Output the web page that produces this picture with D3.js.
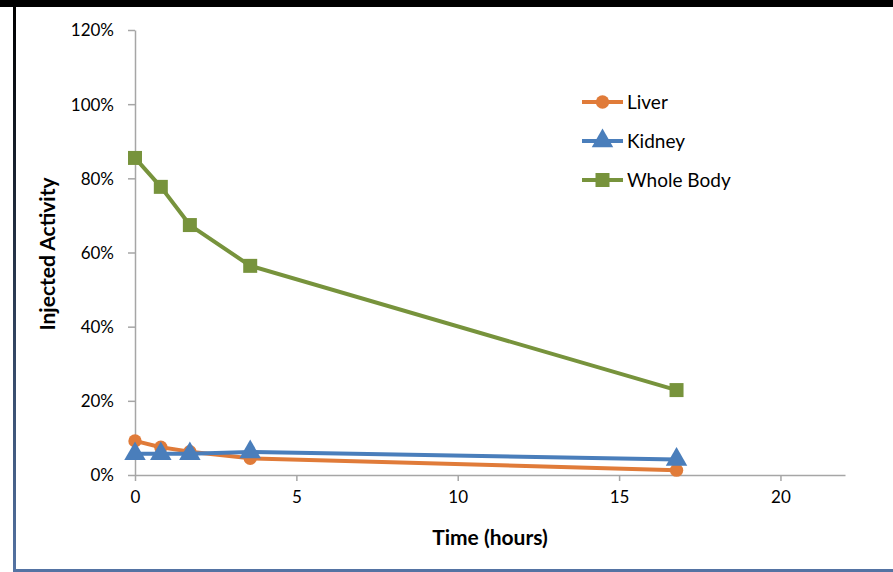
<!DOCTYPE html>
<html>
<head>
<meta charset="utf-8">
<script src="https://cdn.jsdelivr.net/npm/d3@7"></script>
<style>
	body { margin: 0; background: #fff; }
	svg { display: block; font-family: Lato, "Open Sans", sans-serif; }
</style>
</head>
<body>
<svg width="893" height="572"></svg>
<script>
// data
const times = [0, 0.8, 1.7, 3.57, 16.78];
const liver = [0.092, 0.075, 0.063, 0.045, 0.013];
const kidney = [0.057, 0.057, 0.057, 0.062, 0.042];
const wholeBody = [0.855, 0.777, 0.674, 0.564, 0.229];
const seriesNames = ["Liver", "Kidney", "Whole Body"];
const xTicks = [0, 5, 10, 15, 20];
const yTicks = [0, 0.2, 0.4, 0.6, 0.8, 1.0, 1.2];

const series = [
	{ name: seriesNames[0], values: liver, color: "#E07B39", shape: d3.symbolCircle },
	{ name: seriesNames[1], values: kidney, color: "#4A7EBB", shape: d3.symbolTriangle },
	{ name: seriesNames[2], values: wholeBody, color: "#77933C", shape: d3.symbolSquare },
];

const svg = d3.select("svg");

// frame: black band on top, dark-to-blue bar left, blue bar bottom
const defs = svg.append("defs");
const grad = defs
	.append("linearGradient")
	.attr("id", "leftGrad")
	.attr("x1", 0).attr("y1", 0)
	.attr("x2", 0).attr("y2", 1);
grad.append("stop").attr("offset", "0%").attr("stop-color", "#000");
grad.append("stop").attr("offset", "100%").attr("stop-color", "#5473A3");

svg.append("rect").attr("x", 0).attr("y", 0).attr("width", 893).attr("height", 7).attr("fill", "#000");
svg.append("rect").attr("x", 13).attr("y", 7).attr("width", 3).attr("height", 565).attr("fill", "url(#leftGrad)");
svg.append("rect").attr("x", 13).attr("y", 569).attr("width", 880).attr("height", 3).attr("fill", "#5473A3");

const xScale = d3.scaleLinear().domain([0, 22]).range([135, 845]);
const yScale = d3.scaleLinear().domain([0, 1.2]).range([475, 30]);

// axes
const xAxis = svg
	.append("g")
	.attr("transform", "translate(0," + yScale(0) + ")")
	.call(d3.axisBottom(xScale).tickValues(xTicks).tickSize(6).tickSizeOuter(0).tickPadding(10));
const yAxis = svg
	.append("g")
	.attr("transform", "translate(" + xScale(0) + ",0)")
	.call(d3.axisLeft(yScale).tickValues(yTicks).tickFormat(d3.format(".0%")).tickSize(7).tickSizeOuter(0).tickPadding(14));

[xAxis, yAxis].forEach((ax) => {
	ax.select(".domain").attr("stroke", "#A6A6A6").attr("stroke-width", 1.5);
	ax.selectAll(".tick line").attr("stroke", "#A6A6A6").attr("stroke-width", 1.5);
	ax.selectAll(".tick text").attr("fill", "#000").attr("font-size", "17px").attr("font-family", "Lato, sans-serif");
});
yAxis.selectAll(".tick text").attr("dy", "0.35em");

// axis titles
svg.append("text")
	.attr("x", 490)
	.attr("y", 545)
	.attr("text-anchor", "middle")
	.attr("font-size", "21px")
	.attr("font-weight", "bold")
	.text("Time (hours)");
svg.append("text")
	.attr("transform", "translate(55,254) rotate(-90)")
	.attr("text-anchor", "middle")
	.attr("font-size", "21px")
	.attr("font-weight", "bold")
	.text("Injected Activity");

const line = d3
	.line()
	.x((d, i) => xScale(times[i]))
	.y((d) => yScale(d));

const symbolSize = { Liver: 140, Kidney: 200, "Whole Body": 196 };

series.forEach((s) => {
	svg.append("path")
		.attr("d", line(s.values))
		.attr("fill", "none")
		.attr("stroke", s.color)
		.attr("stroke-width", 4)
		.attr("stroke-linejoin", "round");
	svg.append("g")
		.selectAll("path")
		.data(s.values)
		.join("path")
		.attr("transform", (d, i) => "translate(" + xScale(times[i]) + "," + yScale(d) + ")")
		.attr("d", d3.symbol().type(s.shape).size(symbolSize[s.name]))
		.attr("fill", s.color);
});

// legend
const legend = svg.append("g").attr("transform", "translate(582,102)");
series.forEach((s, i) => {
	const row = legend.append("g").attr("transform", "translate(0," + i * 39 + ")");
	row.append("line")
		.attr("x1", 0).attr("x2", 41)
		.attr("stroke", s.color)
		.attr("stroke-width", 4);
	row.append("path")
		.attr("transform", "translate(20.5,0)")
		.attr("d", d3.symbol().type(s.shape).size(symbolSize[s.name]))
		.attr("fill", s.color);
	row.append("text")
		.attr("x", 45)
		.attr("dy", "0.35em")
		.attr("font-size", "19px")
		.text(s.name);
});
</script>
</body>
</html>
